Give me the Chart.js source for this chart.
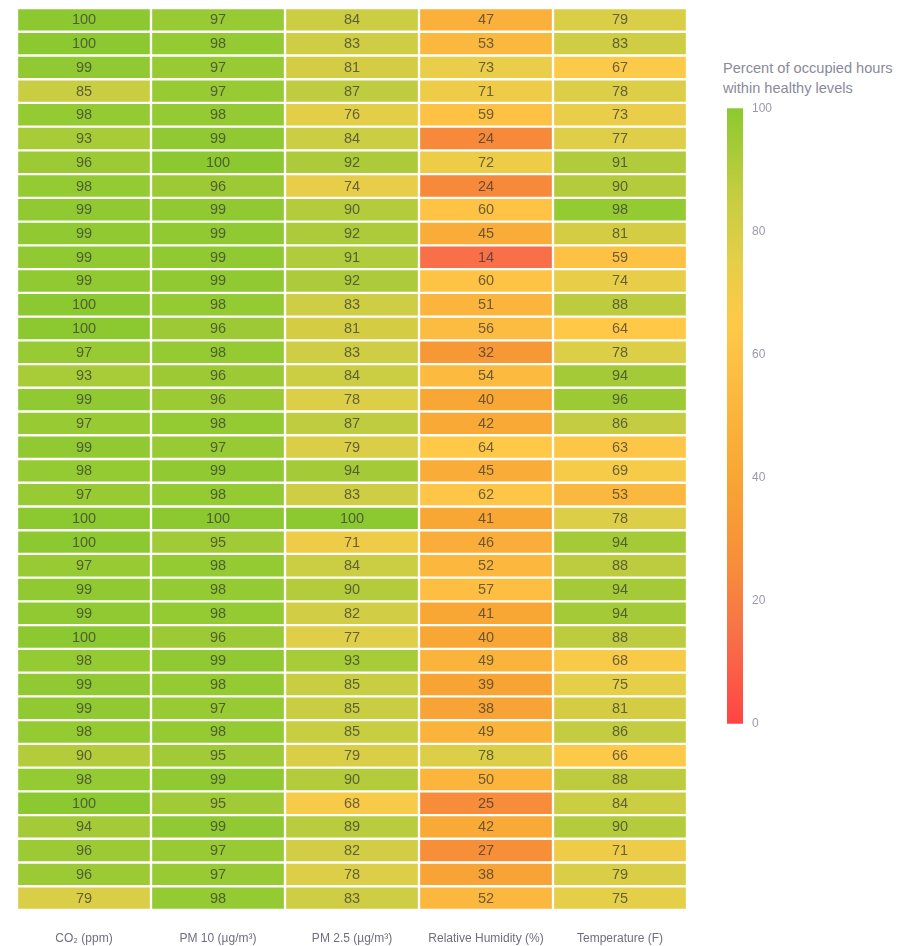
<!DOCTYPE html>
<html>
<head>
<meta charset="utf-8">
<script src="https://cdn.jsdelivr.net/npm/chart.js@4.4.1/dist/chart.umd.min.js"></script>
<style>
  html, body { margin: 0; padding: 0; background: #fff; }
  body { width: 907px; height: 946px; position: relative; overflow: hidden; font-family: "Liberation Sans", Arial, sans-serif; }
  #main { position: absolute; left: 0; top: 0; }
  #bar { position: absolute; left: 727px; top: 92px; }
  #legendTitle { position: absolute; left: 723px; top: 58px; font-size: 14.6px; line-height: 20px; color: #8a8a9a; white-space: nowrap; }
</style>
</head>
<body>
<canvas id="main" width="700" height="946"></canvas>
<div id="legendTitle">Percent of occupied hours<br>within healthy levels</div>
<canvas id="bar" width="60" height="648"></canvas>
<script>
// ---- data ----
const columns = ["CO\u2082 (ppm)", "PM 10 (\u00b5g/m\u00b3)", "PM 2.5 (\u00b5g/m\u00b3)", "Relative Humidity (%)", "Temperature (F)"];
const co2 = [100,100,99,85,98,93,96,98,99,99,99,99,100,100,97,93,99,97,99,98,97,100,100,97,99,99,100,98,99,99,98,90,98,100,94,96,96,79];
const pm10 = [97,98,97,97,98,99,100,96,99,99,99,99,98,96,98,96,96,98,97,99,98,100,95,98,98,98,96,99,98,97,98,95,99,95,99,97,97,98];
const pm25 = [84,83,81,87,76,84,92,74,90,92,91,92,83,81,83,84,78,87,79,94,83,100,71,84,90,82,77,93,85,85,85,79,90,68,89,82,78,83];
const humidity = [47,53,73,71,59,24,72,24,60,45,14,60,51,56,32,54,40,42,64,45,62,41,46,52,57,41,40,49,39,38,49,78,50,25,42,27,38,52];
const temperature = [79,83,67,78,73,77,91,90,98,81,59,74,88,64,78,94,96,86,63,69,53,78,94,88,94,94,88,68,75,81,86,66,88,84,90,71,79,75];
const colorTicks = [0, 20, 40, 60, 80, 100];

const series = [co2, pm10, pm25, humidity, temperature];
const rowCount = co2.length;

// colour scale
const stops = [
  [0,   [255, 68, 68]],
  [15,  [247, 114, 72]],
  [25,  [247, 140, 58]],
  [40,  [248, 166, 52]],
  [55,  [252, 187, 64]],
  [65,  [255, 201, 72]],
  [75,  [229, 206, 72]],
  [85,  [200, 205, 66]],
  [100, [140, 201, 48]]
];
function colorFor(v) {
  for (let i = 1; i < stops.length; i++) {
    if (v <= stops[i][0]) {
      const [a, ca] = stops[i - 1], [b, cb] = stops[i];
      const t = (v - a) / (b - a);
      const c = ca.map((x, k) => Math.round(x + (cb[k] - x) * t));
      return `rgb(${c[0]},${c[1]},${c[2]})`;
    }
  }
  const c = stops[stops.length - 1][1];
  return `rgb(${c[0]},${c[1]},${c[2]})`;
}

const FONT = '"Liberation Sans", Arial, sans-serif';

// one dataset per row; each cell is a floating bar spanning its row
const datasets = [];
for (let r = 0; r < rowCount; r++) {
  datasets.push({
    data: columns.map(() => [r, r + 1]),
    backgroundColor: ctx => colorFor(series[ctx.dataIndex][ctx.datasetIndex]),
    borderColor: 'rgba(255,255,255,0.9)',
    borderWidth: 1.5,
    borderSkipped: false,
    grouped: false,
    barPercentage: 1,
    categoryPercentage: 1
  });
}

const cellLabels = {
  id: 'cellLabels',
  afterDatasetsDraw(chart) {
    const ctx = chart.ctx;
    ctx.save();
    ctx.font = '14.5px ' + FONT;
    ctx.fillStyle = 'rgba(50,50,50,0.7)';
    ctx.textAlign = 'center';
    ctx.textBaseline = 'middle';
    chart.data.datasets.forEach((ds, di) => {
      const meta = chart.getDatasetMeta(di);
      meta.data.forEach((el, ci) => {
        const p = el.getProps(['x', 'y', 'base'], true);
        ctx.fillText(String(series[ci][di]), p.x, (p.y + p.base) / 2 + 0.5);
      });
    });
    ctx.restore();
  }
};

new Chart(document.getElementById('main'), {
  type: 'bar',
  data: { labels: columns, datasets },
  options: {
    responsive: false,
    animation: false,
    layout: { padding: { left: 17, right: 13, top: 8, bottom: 0 } },
    plugins: { legend: { display: false }, tooltip: { enabled: false } },
    scales: {
      x: {
        type: 'category',
        grid: { display: false, drawTicks: false },
        border: { display: false },
        afterFit: s => { s.height = 36; },
        ticks: { color: '#6e6e7e', font: { family: FONT, size: 12 }, padding: 21, maxRotation: 0 }
      },
      y: {
        type: 'linear',
        reverse: true,
        min: 0,
        max: rowCount,
        display: false
      }
    }
  },
  plugins: [cellLabels]
});

// colour bar
new Chart(document.getElementById('bar'), {
  type: 'bar',
  data: {
    labels: [''],
    datasets: [{
      data: [[colorTicks[0], colorTicks[colorTicks.length - 1]]],
      barPercentage: 1,
      categoryPercentage: 1,
      borderWidth: 0,
      backgroundColor: ctx => {
        const area = ctx.chart.chartArea;
        if (!area) return colorFor(50);
        const yScale = ctx.chart.scales.y;
        const g = ctx.chart.ctx.createLinearGradient(0, yScale.getPixelForValue(0), 0, yScale.getPixelForValue(100));
        stops.forEach(([v]) => g.addColorStop(v / 100, colorFor(v)));
        return g;
      }
    }]
  },
  options: {
    responsive: false,
    animation: false,
    layout: { padding: { top: 0, bottom: 0, left: 0, right: 0 } },
    plugins: { legend: { display: false }, tooltip: { enabled: false } },
    scales: {
      x: { display: false },
      y: {
        position: 'right',
        min: 0,
        max: 100,
        afterBuildTicks: s => { s.ticks = colorTicks.map(v => ({ value: v })); },
        afterFit: s => { s.width = 44; },
        grid: { display: false, drawTicks: false },
        border: { display: false },
        ticks: { color: '#9a9aaa', font: { family: FONT, size: 12 }, padding: 9 }
      }
    }
  }
});
</script>
</body>
</html>
